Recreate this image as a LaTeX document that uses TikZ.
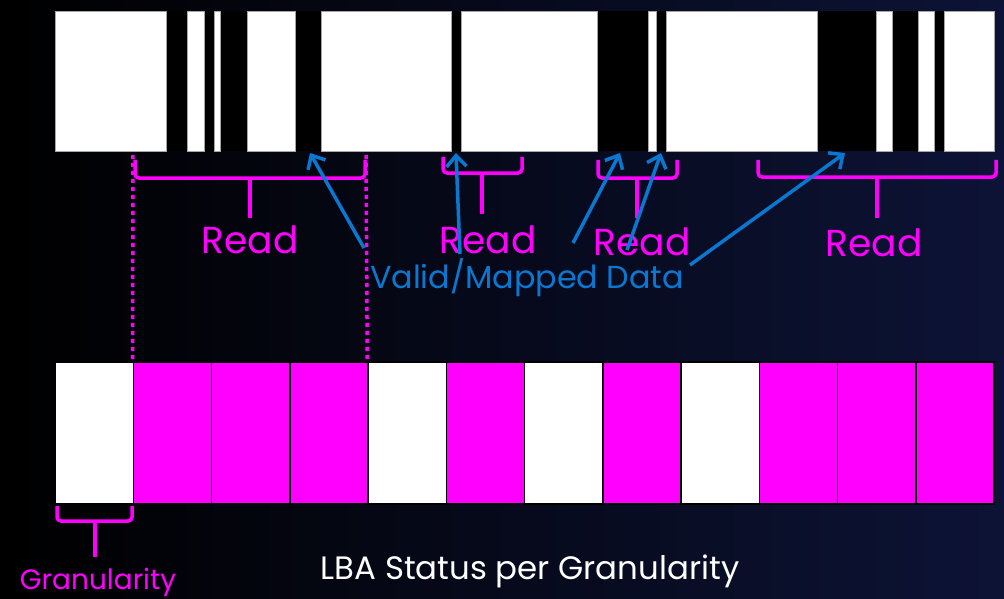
\documentclass[tikz,border=0pt]{standalone}
\usepackage{fontspec}
\setmainfont{Poppins}
\usetikzlibrary{arrows.meta}
\definecolor{mag}{HTML}{FF00FF}
\definecolor{vblue}{HTML}{0A78D0}
\definecolor{bgr}{HTML}{0D1336}
\tikzset{
  whiteseg/.style={fill=white,draw=gray!70,line width=0.6pt},
  cellw/.style={fill=white,draw=black,line width=1.5pt},
  cellm/.style={fill=mag,draw=black,line width=1.5pt},
  bracket/.style={draw=mag,line width=3.5pt,rounded corners=4pt},
  stem/.style={draw=mag,line width=3.5pt},
  dotline/.style={draw=mag,line width=3.5pt,dash pattern=on 4pt off 4pt},
  validarrow/.style={draw=vblue,line width=3.5pt,-{Straight Barb[length=11pt,width=20pt,line width=3.5pt]}},
  readlbl/.style={text=mag,font=\fontsize{37.5}{40}\selectfont,inner sep=0pt},
}
\begin{document}
\begin{tikzpicture}[x=1pt,y=-1pt]
\shade[left color=black,right color=bgr] (0,0) rectangle (1004,599);
\useasboundingbox (0,0) rectangle (1004,599);
% top bar
\fill[black] (55,11) rectangle (994,151);
\foreach \a/\b in {55/166,187/204,214/220,247/295,321/451,461/597,648/656,666/817,876/892,918/934,944/994}
  \draw[whiteseg] (\a,11) rectangle (\b,151);
% bottom cells
\foreach \i/\s in {0/cellw,1/cellm,2/cellm,3/cellm,4/cellw,5/cellm,6/cellw,7/cellm,8/cellw,9/cellm,10/cellm,11/cellm}
  \node[\s,minimum width=78.25pt,minimum height=142pt,inner sep=0pt,anchor=north west] (c\i) at ({54.25+78.25*\i},361) {};
% dotted lines
\draw[dotline] (c1.north west) ++(0,-2) -- (133,154);
\draw[dotline] (c4.north west) ++(0,-2) -- (366,154);
% braces
\draw[bracket] (135,160) -- (135,178) -- (365,178) -- (365,160);
\draw[stem] (250,178) -- (250,218);
\draw[bracket] (443,157) -- (443,173) -- (522,173) -- (522,157);
\draw[stem] (482,173) -- (482,214);
\draw[bracket] (598,160) -- (598,178) -- (677,178) -- (677,160);
\draw[stem] (637,178) -- (637,218);
\draw[bracket] (758,160) -- (758,177) -- (996,177) -- (996,160);
\draw[stem] (877,177) -- (877,218);
\draw[bracket] (57,506) -- (57,521) -- (132,521) -- (132,506);
\draw[stem] (95,521) -- (95,557);
% labels
\node[readlbl] (r1) at (250,240) {Read};
\node[readlbl] (r2) at (488,240) {Read};
\node[readlbl] (r3) at (642,242) {Read};
\node[readlbl] (r4) at (874,243) {Read};
\node[text=vblue,font=\fontsize{31.8}{34}\selectfont,inner sep=0pt] (vm) at (527,277.5) {Valid/Mapped Data};
\node[text=white,font=\fontsize{32.4}{34}\selectfont,inner sep=0pt] (lba) at (530,571) {LBA Status per Granularity};
\node[text=mag,font=\fontsize{28}{30}\selectfont,inner sep=0pt] (gr) at (98,582) {Granularity};
% arrows
\coordinate (s1) at (364,248); \coordinate (t1) at (310,153);
\coordinate (s2) at (460,254); \coordinate (t2) at (456,153);
\coordinate (s3) at (573,243); \coordinate (t3) at (620,153);
\coordinate (s4) at (627,250); \coordinate (t4) at (661,153);
\coordinate (s5) at (690,265); \coordinate (t5) at (845,153);
\foreach \k in {1,...,5} \draw[validarrow] (s\k) -- (t\k);
\end{tikzpicture}
\end{document}
